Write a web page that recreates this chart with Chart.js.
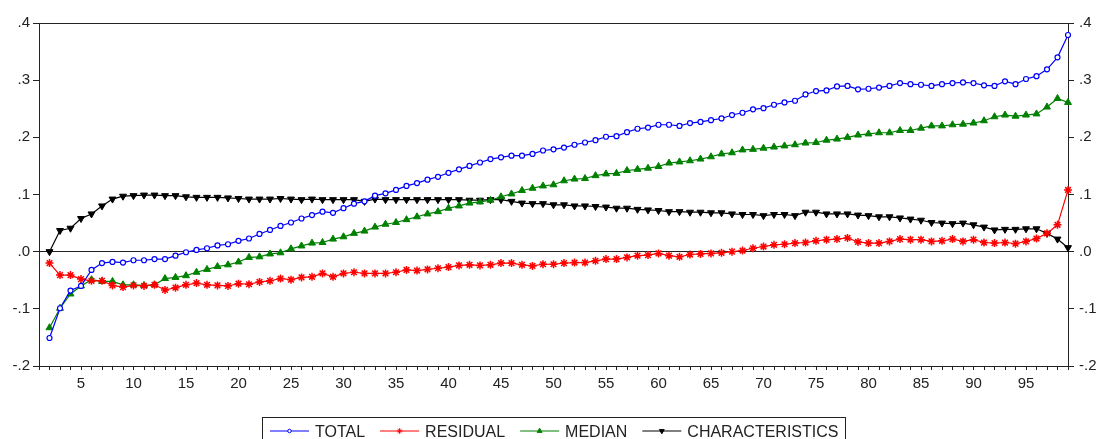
<!DOCTYPE html>
<html lang="en">
  <head>
    <meta charset="UTF-8" />
    <title>Total / Residual / Median / Characteristics</title>
    <script src="https://cdn.jsdelivr.net/npm/chart.js"></script>
    <style>
      body { margin: 0; background: #fff; }
      #wrap { width: 1100px; height: 439px; position: relative; }
    </style>
  </head>
  <body>
    <div id="wrap"><canvas id="lineChart"></canvas></div>

    <script>
      // observation numbers 1..99 (obs 1 has no value)
      const obs = Array.from({ length: 99 }, (_, i) => i + 1);

      const total = [
        null, -0.151, -0.099, -0.068, -0.060, -0.032, -0.020, -0.018, -0.019, -0.015,
        -0.015, -0.013, -0.013, -0.007, -0.001, 0.003, 0.006, 0.011, 0.013, 0.019,
        0.023, 0.031, 0.038, 0.045, 0.051, 0.058, 0.064, 0.070, 0.068, 0.076,
        0.084, 0.088, 0.098, 0.102, 0.108, 0.115, 0.120, 0.126, 0.131, 0.138,
        0.144, 0.150, 0.156, 0.162, 0.165, 0.168, 0.168, 0.171, 0.177, 0.179,
        0.182, 0.187, 0.191, 0.195, 0.201, 0.202, 0.209, 0.215, 0.217, 0.222,
        0.222, 0.220, 0.225, 0.227, 0.230, 0.233, 0.239, 0.243, 0.249, 0.251,
        0.257, 0.261, 0.264, 0.275, 0.281, 0.282, 0.289, 0.290, 0.284, 0.285,
        0.287, 0.290, 0.295, 0.293, 0.292, 0.290, 0.293, 0.295, 0.296, 0.295,
        0.291, 0.290, 0.298, 0.293, 0.302, 0.307, 0.319, 0.340, 0.379
      ];

      const residual = [
        null, -0.020, -0.041, -0.041, -0.048, -0.051, -0.051, -0.059, -0.062, -0.059,
        -0.060, -0.058, -0.067, -0.063, -0.058, -0.055, -0.058, -0.059, -0.060, -0.056,
        -0.057, -0.053, -0.051, -0.047, -0.049, -0.045, -0.044, -0.038, -0.044, -0.038,
        -0.036, -0.038, -0.038, -0.038, -0.036, -0.032, -0.033, -0.031, -0.029, -0.027,
        -0.024, -0.023, -0.024, -0.023, -0.020, -0.020, -0.023, -0.025, -0.022, -0.022,
        -0.020, -0.019, -0.019, -0.016, -0.013, -0.013, -0.010, -0.007, -0.006, -0.003,
        -0.007, -0.009, -0.005, -0.004, -0.003, -0.002, 0.000, 0.002, 0.006, 0.009,
        0.012, 0.013, 0.015, 0.016, 0.019, 0.021, 0.022, 0.024, 0.017, 0.015,
        0.015, 0.018, 0.022, 0.021, 0.021, 0.018, 0.019, 0.022, 0.018, 0.021,
        0.016, 0.015, 0.016, 0.014, 0.018, 0.023, 0.032, 0.047, 0.108
      ];

      const median = [
        null, -0.133, -0.099, -0.074, -0.060, -0.049, -0.052, -0.052, -0.058, -0.058,
        -0.059, -0.058, -0.047, -0.045, -0.042, -0.036, -0.031, -0.026, -0.023, -0.018,
        -0.010, -0.009, -0.004, -0.002, 0.005, 0.010, 0.015, 0.016, 0.022, 0.026,
        0.032, 0.036, 0.043, 0.048, 0.051, 0.056, 0.061, 0.066, 0.070, 0.076,
        0.080, 0.085, 0.087, 0.090, 0.096, 0.101, 0.107, 0.111, 0.115, 0.117,
        0.124, 0.127, 0.128, 0.133, 0.136, 0.137, 0.142, 0.144, 0.146, 0.149,
        0.155, 0.157, 0.159, 0.162, 0.166, 0.171, 0.173, 0.178, 0.179, 0.181,
        0.183, 0.185, 0.187, 0.190, 0.191, 0.195, 0.197, 0.200, 0.204, 0.206,
        0.208, 0.208, 0.212, 0.212, 0.216, 0.220, 0.220, 0.222, 0.223, 0.225,
        0.229, 0.236, 0.239, 0.237, 0.239, 0.241, 0.253, 0.268, 0.261
      ];

      const characteristics = [
        null, 0.000, 0.037, 0.041, 0.058, 0.066, 0.080, 0.092, 0.097, 0.098,
        0.099, 0.099, 0.098, 0.098, 0.096, 0.095, 0.095, 0.095, 0.094, 0.093,
        0.092, 0.092, 0.092, 0.093, 0.092, 0.091, 0.092, 0.091, 0.091, 0.091,
        0.091, 0.088, 0.092, 0.091, 0.091, 0.091, 0.091, 0.091, 0.091, 0.091,
        0.091, 0.090, 0.090, 0.091, 0.091, 0.088, 0.085, 0.084, 0.084, 0.082,
        0.082, 0.080, 0.080, 0.079, 0.078, 0.076, 0.076, 0.074, 0.073, 0.072,
        0.070, 0.070, 0.069, 0.069, 0.068, 0.068, 0.066, 0.065, 0.065, 0.063,
        0.065, 0.065, 0.063, 0.069, 0.069, 0.066, 0.066, 0.066, 0.064, 0.063,
        0.061, 0.061, 0.059, 0.057, 0.055, 0.051, 0.050, 0.049, 0.050, 0.047,
        0.043, 0.038, 0.039, 0.039, 0.040, 0.040, 0.032, 0.022, 0.007
      ];

      const yMin = -0.2;
      const yMax = 0.4;

      const FONT = '"Liberation Sans", Arial, sans-serif';

      function fmtTick(v) {
        return v.toFixed(1).replace("0.", ".");
      }

      // EViews style boxed legend: short line with the marker in the middle
      const boxLegend = {
        id: "boxLegend",
        afterDraw(chart) {
          const ctx = chart.ctx;
          const top = 417.5;
          const lineY = 431;
          ctx.save();
          ctx.strokeStyle = "#222";
          ctx.lineWidth = 1;
          ctx.strokeRect(262.5, top, 583, 40);

          ctx.font = "16px " + FONT;
          ctx.textBaseline = "middle";
          let x = 270;
          chart.data.datasets.forEach((ds) => {
            ctx.strokeStyle = ds.borderColor;
            ctx.lineWidth = 1;
            ctx.beginPath();
            ctx.moveTo(x, lineY);
            ctx.lineTo(x + 39, lineY);
            ctx.stroke();

            ctx.fillStyle = ds.pointBackgroundColor;
            ctx.strokeStyle = ds.borderColor;
            Chart.helpers.drawPoint(ctx, {
              pointStyle: ds.pointStyle,
              radius: ds.pointRadius * 0.7,
              rotation: ds.pointRotation || 0,
              borderWidth: 1
            }, x + 19.5, lineY);

            ctx.fillStyle = "#222";
            ctx.fillText(ds.label, x + 45, lineY + 2);
            x += 45 + ctx.measureText(ds.label).width + 15;
          });
          ctx.restore();
        }
      };

      const ctx = document.getElementById("lineChart").getContext("2d");
      new Chart(ctx, {
        type: "line",
        data: {
          labels: obs,
          datasets: [
            {
              label: "TOTAL",
              data: total,
              borderColor: "#0000ff",
              pointBackgroundColor: "#ffffff",
              pointBorderColor: "#0000ff",
              pointStyle: "circle",
              pointRadius: 2.5,
              pointBorderWidth: 1.2,
              borderWidth: 1.2,
              yAxisID: "y"
            },
            {
              label: "RESIDUAL",
              data: residual,
              borderColor: "#ff0000",
              pointBackgroundColor: "#ff0000",
              pointBorderColor: "#ff0000",
              pointStyle: "star",
              pointRadius: 4,
              pointBorderWidth: 1.5,
              borderWidth: 1.2,
              yAxisID: "y"
            },
            {
              label: "MEDIAN",
              data: median,
              borderColor: "#008000",
              pointBackgroundColor: "#008000",
              pointBorderColor: "#008000",
              pointStyle: "triangle",
              pointRadius: 4,
              pointBorderWidth: 1,
              borderWidth: 1.2,
              yAxisID: "y"
            },
            {
              label: "CHARACTERISTICS",
              data: characteristics,
              borderColor: "#000000",
              pointBackgroundColor: "#000000",
              pointBorderColor: "#000000",
              pointStyle: "triangle",
              pointRotation: 180,
              pointRadius: 4,
              pointBorderWidth: 1,
              borderWidth: 1.2,
              yAxisID: "y"
            }
          ]
        },
        options: {
          responsive: true,
          maintainAspectRatio: false,
          animation: false,
          layout: { padding: { top: 23, left: 0, right: 0, bottom: 0 } },
          plugins: {
            legend: { display: false },
            tooltip: { enabled: false }
          },
          elements: { line: { tension: 0 } },
          scales: {
            x: {
              type: "category",
              offset: false,
              border: { color: "#222", width: 1 },
              grid: {
                drawOnChartArea: false,
                tickLength: 4,
                tickColor: "#222"
              },
              ticks: {
                autoSkip: false,
                maxRotation: 0,
                padding: 5,
                color: "#222",
                font: { family: FONT, size: 15 },
                callback: function (val, idx) {
                  const n = obs[idx];
                  return n % 5 === 0 ? String(n) : "";
                }
              },
              afterFit: (scale) => { scale.height = 73; }
            },
            y: {
              position: "left",
              min: yMin,
              max: yMax,
              border: { color: "#222", width: 1 },
              grid: {
                color: (c) => (Math.abs(c.tick.value) < 1e-9 || Math.abs(c.tick.value - yMax) < 1e-9) ? "#222" : "rgba(0,0,0,0)",
                tickColor: "#222",
                tickLength: 6
              },
              ticks: {
                stepSize: 0.1,
                padding: 3,
                color: "#222",
                font: { family: FONT, size: 15 },
                callback: (v) => fmtTick(v)
              },
              afterFit: (scale) => { scale.width = 39; }
            },
            y2: {
              position: "right",
              min: yMin,
              max: yMax,
              border: { color: "#222", width: 1 },
              grid: {
                drawOnChartArea: false,
                tickColor: "#222",
                tickLength: 6
              },
              ticks: {
                stepSize: 0.1,
                padding: 5,
                color: "#222",
                font: { family: FONT, size: 15 },
                callback: (v) => fmtTick(v)
              },
              afterFit: (scale) => { scale.width = 32; }
            }
          }
        },
        plugins: [boxLegend]
      });
    </script>
  </body>
</html>
